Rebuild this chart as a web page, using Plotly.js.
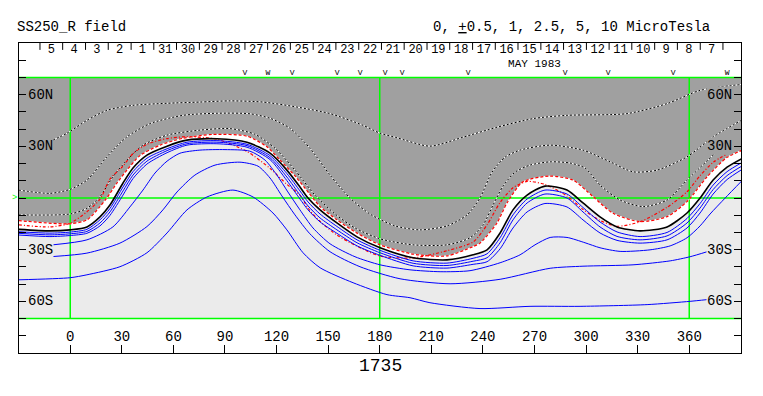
<!DOCTYPE html>
<html><head><meta charset="utf-8">
<script src="https://cdn.plot.ly/plotly-3.0.1.min.js"></script>
<style>html,body{margin:0;padding:0;background:#fff}#chart{width:763px;height:396px}</style>
</head><body><div id="chart"></div>
<script>
// ---- data (Carrington longitude in degrees, latitude in degrees) ----
const neutralLon = [-30,-11.8,-0.2,9.7,17.3,23.1,30.7,36.5,44.6,56.3,67.9,85.3,102.8,116.2,126.0,133.6,138.3,145.3,155.1,166.8,180.2,199.4,219.1,234.3,242.4,250.0,257.5,265.7,276.1,288.9,298.2,308.1,318.0,331.4,347.1,358.7,366.3,373.9,382.0,391];
const neutralLat = [-18.2,-19.1,-18.5,-16.8,-11.0,-4.1,8.7,17.4,24.9,30.1,33.6,34.4,32.4,26.0,16.2,6.4,0,-6.9,-14.5,-22.6,-28.9,-34.7,-35.9,-33.0,-30.1,-20.3,-6.9,1.7,6.9,4.6,-2.9,-11.0,-16.8,-19.1,-16.8,-8.7,0,10.4,17.9,23.1];
const neg1Lat = [-19.6,-20.4,-19.8,-18.2,-12.7,-6.1,6.4,15.3,23.1,28.6,32.4,33.3,31.2,24.6,14.2,4.1,-2.3,-9.3,-16.5,-24.3,-30.4,-36.5,-37.8,-35.0,-32.4,-23.1,-9.8,-0.6,4.6,2.3,-5.5,-13.9,-19.7,-22.4,-20.0,-11.9,-3.2,7.5,15.3,20.8];
const neg2Lat = [-20.5,-21.4,-20.8,-19.4,-14.5,-8.1,4.1,13.3,21.4,27.5,31.5,32.4,30.4,23.4,12.2,1.7,-4.6,-11.6,-18.5,-26.0,-31.8,-37.9,-39.2,-36.7,-34.7,-26.0,-12.7,-2.9,2.3,0,-8.1,-16.8,-22.3,-24.3,-22.0,-14.5,-5.8,4.9,13.0,18.8];
const neg3Lat = [-21.5,-22.4,-21.8,-20.5,-16.2,-10.1,1.7,11.3,19.7,26.3,30.7,31.5,29.5,22.3,10.1,-0.6,-6.9,-13.9,-20.5,-27.8,-33.3,-39.4,-40.7,-38.5,-37.0,-29.5,-17.4,-8.1,-3.2,-5.2,-12.7,-20.3,-24.6,-26.2,-24.3,-17.4,-8.7,2.3,10.7,16.8];

const halfPosLon = [-30,-0.2,9.7,17.3,21.3,27.2,33.0,40.5,52.2,65.6,83.0,102.8,114.4,122.0,131.2,138.9,145.3,155.1,166.8,180.2,199.4,219.1,234.3,238.3,248.2,254.0,263.3,279.0,292.4,304.0,315.7,331.4,347.1,358.7,370.4,382.0,391];
const halfPosLat = [-13.1,-15.0,-12.7,-5.0,0,8.7,16.2,24.6,30.7,34.7,36.9,35.9,29.7,22.0,12.3,2.7,-5.0,-12.7,-20.4,-27.2,-32.6,-33.6,-28.2,-26.2,-14.5,-2.9,9.4,12.7,10.4,0.8,-8.9,-13.7,-10.8,-2.1,12.3,23.6,27.8];
const halfNegLat = [-15.6,-16.8,-14.7,-8.0,-0.7,11.0,18.6,25.8,31.2,34.5,35.6,34.1,27.0,17.2,7.9,1.7,-5.9,-13.6,-21.5,-28.0,-33.7,-34.8,-30.6,-25.5,-15.6,-2.6,6.0,9.6,7.9,1.2,-6.6,-13.0,-16.4,-13.8,-5.4,3.6,13.0,20.7,25.5];

const neg4Lon = [-10.1,9.7,24.8,34.7,42.3,49.3,56.3,63.8,75.4,90.0,104.5,113.3,120.2,126.6,133.6,141.2,151.1,165.6,180.2,197.6,215.1,232.5,250.0,261.6,270.3,279.1,288.9,299.4,308.1,319.8,337.2,348.9,358.7,366.3,372.1,380.9,391];
const neg4Lat = [-27.2,-24.3,-16.8,-5.2,4.6,14.5,21.4,26.0,27.8,28.1,27.2,22.0,13.3,3.5,-6.9,-17.4,-26.6,-34.1,-38.8,-41.7,-42.8,-42.2,-37.6,-33.0,-27.2,-22.9,-22.9,-26.0,-28.9,-31.0,-30.1,-27.8,-23.1,-16.2,-9.3,0,10.4];
const neg5Lon = [-10.1,9.7,28.9,44.6,53.9,62.1,72.5,84.2,98.7,109.2,116.2,123.1,130.7,139.4,151.1,168.5,191.8,220.9,250.0,279.1,298.2,327.3,348.9,360.5,370.4];
const neg5Lat = [-34.0,-32.0,-26.2,-16.6,-6.9,3.5,13.3,19.1,20.8,18.5,11.6,1.2,-9.8,-20.8,-31.2,-39.9,-46.9,-49.8,-47.2,-40.8,-39.6,-38.8,-36.5,-34.1,-31.2];
const neg6Lon = [-30,-0.2,9.7,28.9,44.6,56.3,67.9,79.5,94.6,106.3,117.9,126.0,135.4,145.3,164.5,184.2,197.6,209.2,238.3,267.4,296.5,335.5,360.5,370.4];
const neg6Lat = [-47.5,-46.3,-44.6,-39.9,-31.8,-20.3,-6.9,0.6,4.6,0.6,-8.7,-18.5,-31.8,-40.5,-49.2,-56.1,-57.9,-60.8,-64.2,-62.9,-62.9,-61.9,-60.0,-59.0];

const pos1Lon = [-10.1,-1.9,9.7,21.3,36.5,56.3,75.4,92.9,112.1,131.9,151.1,170.3,180.2,190.0,209.2,228.4,248.2,269.2,288.9,323.8,347.1,366.3,391];
const pos1Lat = [33.6,37.6,45.1,50.9,53.8,55.0,55.7,56.4,55.7,52.8,49.0,42.2,37.6,35.0,30.1,35.3,41.1,46.1,48.0,49.0,54.8,62.5,66.0];
const pos2Lon = [-30,-11.8,-0.2,9.7,21.3,33.0,46.4,65.6,85.3,104.5,116.2,127.8,139.4,151.1,162.7,174.3,188.9,203.4,219.1,230.8,238.3,245.3,252.9,261.6,279.1,298.2,314.0,327.3,341.3,358.7,373.9,391];
const pos2Lat = [4.6,2.7,5.0,10.4,23.9,35.5,43.2,48.0,49.2,48.9,46.3,40.5,28.9,13.3,0,-9.3,-16.2,-18.5,-16.2,-9.8,0,15.0,23.7,27.8,30.7,27.8,21.0,15.2,16.2,23.9,35.5,45.5];
const pos3Lon = [-30,-0.2,9.7,17.3,24.8,33.0,42.3,56.3,75.4,92.9,107.4,119.1,130.7,142.3,154.0,165.6,180.2,199.4,219.1,232.5,240.1,245.9,251.7,258.7,267.4,279.1,290.7,299.4,308.1,319.8,333.2,347.1,358.7,375.0];
const pos3Lat = [-9.8,-9.3,-6.0,0.8,12.3,22.0,30.7,36.5,39.4,40.3,37.0,28.9,16.2,1.7,-9.3,-17.4,-23.7,-27.2,-27.2,-23.1,-15.6,-4.1,6.9,15.0,19.1,21.0,20.3,17.4,7.5,-1.2,-5.0,-1.2,10.4,26.0];

const lonTicks = [0,30,60,90,120,150,180,210,240,270,300,330,360];
const lonTickText = ['0','30','60','90','120','150','180','210','240','270','300','330','360'];
const latTicks = [-80,-70,-60,-50,-40,-30,-20,-10,0,10,20,30,40,50,60,70,80];
const latLabelVals = [60,30,-30,-60];
const latLabelText = ['60N','30N','30S','60S'];
const dayTicks = [-17.6,-4.4,8.9,22.1,35.4,48.6,61.8,75.1,88.3,101.6,114.8,128.0,141.3,154.5,167.8,181.0,194.2,207.5,220.7,234.0,247.2,260.4,273.7,286.9,300.2,313.4,326.6,339.9,353.1,366.4,379.6];
const dayLabels = ['5','4','3','2','1','31','30','29','28','27','26','25','24','23','22','21','20','19','18','17','16','15','14','13','12','11','10','9','8','7'];
const markLon = [101.6,115.0,129.0,155.2,168.6,183.2,193.0,231.4,287.8,312.8,350.6,382.0];
const markText = ['V','W','V','V','V','V','V','V','V','V','V','W'];

// ---- styling ----
const MONO = 'Liberation Mono, DejaVu Sans Mono, monospace';
const GRAY = '#a0a0a0', LIGHT = '#ebebeb', GREEN = '#00ff00';
const SMOOTH = 0.7;
const traces = [];
function ln(x, y, color, width, dash) {
  return {type:'scatter', mode:'lines', x:x, y:y, hoverinfo:'skip', showlegend:false,
          line:{color:color, width:width, dash:dash||'solid', shape:'spline', smoothing:SMOOTH}};
}
function area(x, y, color) {
  // same spline path as the contour it follows; closing corners lie outside the visible area
  const n = x.length;
  return {type:'scatter', mode:'lines', hoverinfo:'skip', showlegend:false,
    x:x.concat([x[n-1]+2, x[n-1]+2, x[0]-2, x[0]-2]),
    y:y.concat([y[n-1], 82, 82, y[0]]),
    fill:'toself', fillcolor:color, line:{width:0, shape:'spline', smoothing:SMOOTH}};
}
traces.push(area(neutralLon, neutralLat, '#ffffff'));
traces.push(area(halfPosLon, halfPosLat, GRAY));
traces.push({type:'scatter', mode:'lines', x:[-35,395,395,-35], y:[70,70,92,92], fill:'toself',
  fillcolor:'#ffffff', line:{width:0}, hoverinfo:'skip', showlegend:false});
[0,180,360].forEach(v => traces.push({type:'scatter', mode:'lines', x:[v,v], y:[-70,70], hoverinfo:'skip', showlegend:false, line:{color:GREEN, width:1.5}}));
[-70,0,70].forEach(v => traces.push({type:'scatter', mode:'lines', x:[-31,392], y:[v,v], hoverinfo:'skip', showlegend:false, line:{color:GREEN, width:1.5}}));
[[pos1Lon,pos1Lat],[pos2Lon,pos2Lat],[pos3Lon,pos3Lat]].forEach(p => {
  traces.push(ln(p[0], p[1], '#ffffff', 1));
  traces.push(ln(p[0], p[1], '#000000', 1, '2px,2px'));
});
traces.push(ln(halfPosLon, halfPosLat, '#ffffff', 1));
traces.push(ln(halfPosLon, halfPosLat, '#ff0000', 1.2, '3px,2px'));
traces.push(ln(neutralLon, halfNegLat, '#ff0000', 1.2, '3px,2px,1px,2px'));
traces.push(ln(neutralLon, neutralLat, '#000000', 1.6));
[neg1Lat, neg2Lat, neg3Lat].forEach(l => traces.push(ln(neutralLon, l, '#0000ff', 1)));
traces.push(ln(neg4Lon, neg4Lat, '#0000ff', 1));
traces.push(ln(neg5Lon, neg5Lat, '#0000ff', 1));
traces.push(ln(neg6Lon, neg6Lat, '#0000ff', 1));
const tx = [], ty = [];
dayTicks.forEach(t => { tx.push(t, t, null); ty.push(90, 86, null); });
traces.push({type:'scatter', mode:'lines', x:tx, y:ty, hoverinfo:'skip', showlegend:false, line:{color:'#000', width:1}});
const dayPos = dayLabels.map((d, i) => (dayTicks[i] + dayTicks[i+1]) / 2);
traces.push({type:'scatter', mode:'text', x:dayPos, y:dayLabels.map(() => 85.8), text:dayLabels,
  textfont:{family:MONO, size:12, color:'#000'}, hoverinfo:'skip', showlegend:false, cliponaxis:false});
traces.push({type:'scatter', mode:'text', x:[270.0], y:[77.6], text:['MAY 1983'],
  textfont:{family:MONO, size:11, color:'#000'}, hoverinfo:'skip', showlegend:false, cliponaxis:false});
traces.push({type:'scatter', mode:'text', x:markLon, y:markLon.map(() => 72.4), text:markText,
  textfont:{family:MONO, size:8, color:'#000'}, hoverinfo:'skip', showlegend:false, cliponaxis:false});
traces.push({type:'scatter', mode:'text', x:lonTicks, y:lonTicks.map(() => -81), text:lonTickText,
  textfont:{family:MONO, size:14, color:'#000'}, hoverinfo:'skip', showlegend:false, cliponaxis:false});

const annotations = [];
latLabelVals.forEach((v, i) => {
  const bg = v > 0 ? GRAY : LIGHT;
  const f = {family:MONO, size:14, color:'#000'};
  annotations.push({x:-25.4, y:v, xref:'x', yref:'y', text:latLabelText[i], xanchor:'left', yanchor:'middle',
    showarrow:false, bgcolor:bg, borderpad:0, font:f});
  annotations.push({x:385.6, y:v, xref:'x', yref:'y', text:latLabelText[i], xanchor:'right', yanchor:'middle',
    showarrow:false, bgcolor:bg, borderpad:0, font:f});
});
annotations.push({xref:'paper', yref:'paper', x:-0.0055, y:1.0516, xanchor:'left', yanchor:'middle',
  text:'SS250_R field', showarrow:false, font:{family:MONO, size:14, color:'#000'}});
annotations.push({xref:'paper', yref:'paper', x:0.9598, y:1.0516, xanchor:'right', yanchor:'middle',
  text:'0, <u>+</u>0.5, 1, 2.5, 5, 10 MicroTesla', showarrow:false, font:{family:MONO, size:14, color:'#000'}});
annotations.push({xref:'paper', yref:'paper', x:0.5, y:-0.042, xanchor:'center', yanchor:'middle',
  text:'1735', showarrow:false, font:{family:MONO, size:18, color:'#000'}});
annotations.push({xref:'paper', yref:'y', x:0, y:0, xanchor:'right', yanchor:'middle',
  text:'>', showarrow:false, font:{family:MONO, size:9, color:GREEN}});

const layout = {
  width:763, height:396,
  margin:{l:19, r:22, t:43, b:43, pad:0},
  paper_bgcolor:'#ffffff', plot_bgcolor:'#ffffff',
  showlegend:false, hovermode:false,
  xaxis:{range:[-29.8, 390.1], showgrid:false, zeroline:false, showline:true, mirror:true,
    linecolor:'#000', linewidth:1, ticks:'inside', ticklen:8, tickwidth:1, tickcolor:'#000',
    tickmode:'array', tickvals:lonTicks, showticklabels:false, fixedrange:true},
  yaxis:{range:[-90, 90], showgrid:false, zeroline:false, showline:true, mirror:'ticks',
    linecolor:'#000', linewidth:1, ticks:'inside', ticklen:7, tickwidth:1, tickcolor:'#000',
    tickmode:'array', tickvals:latTicks, showticklabels:false, fixedrange:true},
  shapes:[{type:'rect', xref:'x', yref:'y', x0:-31, x1:392, y0:-70, y1:70, fillcolor:LIGHT, line:{width:0}, layer:'below'}],
  annotations:annotations
};
Plotly.newPlot('chart', traces, layout, {staticPlot:true, displayModeBar:false});
</script>
</body></html>
